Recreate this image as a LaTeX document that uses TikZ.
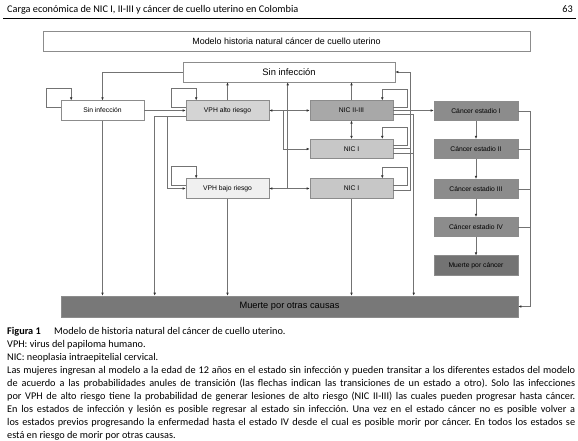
\documentclass[tikz,border=0pt]{standalone}
\usepackage{fontspec}
\setmainfont{Carlito}
\newfontfamily\arialf{Liberation Sans}
\usetikzlibrary{calc,arrows.meta,shadows}
\newcommand\myloopL[1]{\draw[arr] ($(#1.west)+(0,-3.5)$) -- ++(-14,0) |- ($(#1.north west)+(10.5,-12.5)$) -- ($(#1.north west)+(10.5,0)$);}
\newcommand\myloopR[1]{\draw[arr] ($(#1.east)+(0,-3.5)$) -- ++(14,0) |- ($(#1.north east)+(-11,-11.5)$) -- ($(#1.north east)+(-11,0)$);}
\newcommand\jline[1]{\makebox[568bp][s]{#1}}
\begin{document}
\begin{tikzpicture}[x=1bp,y=-1bp,
  box/.style={draw=black!45, line width=0.6bp, minimum width=83bp, minimum height=19.5bp, inner sep=0pt,
    font=\arialf\fontsize{6.8}{8}\selectfont, text=black,
    drop shadow={shadow xshift=0.7bp,shadow yshift=-0.7bp,fill=black!35,opacity=1}},
  ln/.style={draw=black!55, line width=0.6bp},
  arr/.style={ln, -{Latex[length=3bp,width=2.6bp,color=black!80]}},
  darr/.style={ln, {Latex[length=3bp,width=2.6bp,color=black!80]}-{Latex[length=3bp,width=2.6bp,color=black!80]}},
  captxt/.style={anchor=base west, inner sep=0pt, font=\fontsize{10.3}{12.9}\selectfont\frenchspacing},
]
\useasboundingbox (0,0) rectangle (578,441);
\fill[white] (0,0) rectangle (578,441);
% header
\node[captxt] (head) at (7,13) {Carga económica de NIC I, II-III y cáncer de cuello uterino en Colombia};
\node[anchor=base east, inner sep=0pt, font=\fontsize{10.3}{12}\selectfont] (page) at (573,13) {63};
\coordinate (r1) at (3,18.5); \coordinate (r2) at (576,18.5);
\draw[line width=0.8bp] (r1) -- (r2);

% boxes
\node[box, fill=white, minimum width=487bp, minimum height=20bp, font=\arialf\fontsize{9}{10}\selectfont] (title) at (286.5,41) {Modelo historia natural cáncer de cuello uterino};
\node[box, fill=white, minimum width=212bp, minimum height=20bp, font=\arialf\fontsize{9.4}{10}\selectfont] (topSin) at (289,72) {Sin infección};
\node[box, fill=white] (leftSin) at (102.5,110.5) {Sin infección};
\node[box, fill=black!17] (alto) at (227.5,110.5) {VPH alto riesgo};
\node[box, fill=black!6] (bajo) at (227.5,188.5) {VPH bajo riesgo};
\node[box, fill=black!34] (nic23) at (351.5,110.5) {NIC II-III};
\node[box, fill=black!22] (nic1a) at (351.5,149) {NIC I};
\node[box, fill=black!22] (nic1b) at (351.5,188.5) {NIC I};
\node[box, fill=black!45, minimum width=84bp] (c1) at (476,111) {Cáncer estadio I};
\node[box, fill=black!45, minimum width=84bp] (c2) at (476,149) {Cáncer estadio II};
\node[box, fill=black!45, minimum width=84bp] (c3) at (476,189) {Cáncer estadio III};
\node[box, fill=black!45, minimum width=84bp] (c4) at (476,227) {Cáncer estadio IV};
\node[box, fill=black!55, minimum width=84bp] (mc) at (476,265.5) {Muerte por cáncer};
\node[box, fill=black!53, minimum width=457bp, minimum height=21bp, font=\arialf\fontsize{9.3}{10}\selectfont] (muerte) at (289.5,306.5) {Muerte por otras causas};

% self loops
\myloopL{leftSin}
\myloopL{alto}
\myloopL{bajo}
\myloopR{nic23}
\myloopR{nic1a}
\myloopR{nic1b}

% connectors
\draw[arr] (topSin.west) -| (leftSin.north);
\draw[arr] (leftSin.east) -- (alto.west);
\draw[arr] (leftSin.south) -- (leftSin.south |- muerte.north);
\draw[arr] ($(alto.west)+(0,5.5)$) -| ($(muerte.north west)+(94,0)$);
\draw[arr] ($(alto.west)+(0,5.5)$) -- ++(-18,0) |- (bajo.west);
\draw[arr] (alto.north) -- (alto.north |- topSin.south);
\draw[darr] (alto.east) -- (nic23.west);
\draw[arr] ($(alto.east)+(14,0)$) |- (nic1a.west);
\draw[arr] (bajo.east) -| ($(topSin.south west)+(105,0)$);
\draw[darr] (bajo.east) -- (nic1b.west);
\draw[arr] (bajo.south) -- (bajo.south |- muerte.north);
\draw[arr] (nic23.north) -- (nic23.north |- topSin.south);
\draw[darr] (nic23.south) -- (nic1a.north);
\draw[arr] (nic23.east) -- (nic23.east -| c1.west);
\draw[arr] ($(nic23.east)+(0,4)$) -| ($(muerte.north west)+(353,0)$);
\draw[ln] ($(nic1a.east)+(0,4)$) -- ++(21,0);
\draw[arr] ($(nic1b.east)+(0,1.5)$) -- ++(17,0) |- (topSin.east);
\draw[ln] ($(nic1a.east)+(0,-0.5)$) -- ++(17,0);
\draw[arr] (nic1b.south) -- (nic1b.south |- muerte.north);
\draw[arr] (c1.south) -- (c2.north);
\draw[arr] (c2.south) -- (c3.north);
\draw[arr] (c3.south) -- (c4.north);
\draw[arr] (c4.south) -- (mc.north);
\draw[arr] (c1.east) -- ++(12,0) |- (muerte.east);
\draw[ln] (c2.east) -- ++(12,0);
\draw[ln] (c3.east) -- ++(12,0);
\draw[ln] (c4.east) -- ++(12,0);

% caption
\node[captxt] (fig) at (7,334) {\textbf{Figura 1}\hspace{1.3em}Modelo de historia natural del cáncer de cuello uterino.};
\node[captxt] (vph) at (7,347) {VPH: virus del papiloma humano.};
\node[captxt] (nicdef) at (7,360) {NIC: neoplasia intraepitelial cervical.};
\node[captxt] (p1) at (7,373) {\jline{Las mujeres ingresan al modelo a la edad de 12 años en el estado sin infección y pueden transitar a los diferentes estados del modelo}};
\node[captxt] (p2) at (7,386) {\jline{de acuerdo a las probabilidades anules de transición (las flechas indican las transiciones de un estado a otro). Solo las infecciones}};
\node[captxt] (p3) at (7,399) {\jline{por VPH de alto riesgo tiene la probabilidad de generar lesiones de alto riesgo (NIC II-III) las cuales pueden progresar hasta cáncer.}};
\node[captxt] (p4) at (7,412) {\jline{En los estados de infección y lesión es posible regresar al estado sin infección. Una vez en el estado cáncer no es posible volver a}};
\node[captxt] (p5) at (7,425) {\jline{los estados previos progresando la enfermedad hasta el estado IV desde el cual es posible morir por cáncer. En todos los estados se}};
\node[captxt] (p6) at (7,438) {está en riesgo de morir por otras causas.};
\end{tikzpicture}
\end{document}
